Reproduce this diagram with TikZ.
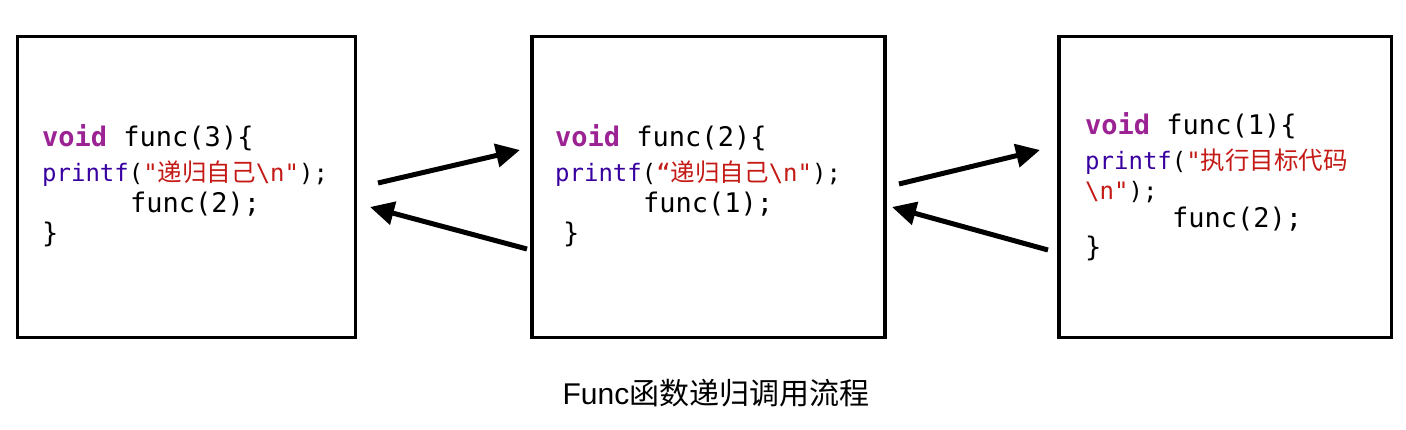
\documentclass[tikz,border=0pt]{standalone}
\usepackage{fontspec}
\usetikzlibrary{arrows.meta}
\newfontfamily\codefont{DejaVu Sans Mono}
\newfontfamily\cjkfont{Noto Sans CJK SC}
\newfontfamily\capfont{Liberation Sans}
\definecolor{kw}{RGB}{155,35,147}
\definecolor{fn}{RGB}{57,0,160}
\definecolor{str}{RGB}{196,26,22}
\newcommand{\cj}[1]{{\cjkfont\fontsize{24.5}{31}\selectfont #1}}
\newcommand{\kwd}[1]{{\bfseries\color{kw}#1}}
\newcommand{\fnm}[1]{{\color{fn}#1}}
\newcommand{\strg}[1]{{\color{str}#1}}
\begin{document}
\begin{tikzpicture}[x=1pt,y=-1pt,
  codebox/.style={draw=black,line width=3.5pt,rectangle,inner sep=0pt,minimum height=301pt},
  codeline/.style={anchor=base west,inner sep=0pt,font=\codefont\fontsize{27}{31}\selectfont},
  smallline/.style={anchor=base west,inner sep=0pt,font=\codefont\fontsize{24}{31}\selectfont},
  flow/.style={line width=5pt,-{Triangle[length=24pt,width=23pt]}}]
\useasboundingbox (0,0) rectangle (1406,430);
% boxes
\node[codebox,minimum width=338pt] (b1) at (186.5,187) {};
\node[codebox,minimum width=353pt] (b2) at (708.5,187) {};
\node[codebox,minimum width=332.5pt] (b3) at (1225.25,187) {};
% box 1 code
\node[codeline] (b1l1) at (42,147) {\kwd{void} func(3)\{};
\node[smallline] (b1l2) at (42,182) {\fnm{printf}(\strg{"\cj{递归自己}\textbackslash n"});};
\node[codeline] (b1l3) at (130,213) {func(2);};
\node[codeline] (b1l4) at (42,243) {\}};
% box 2 code
\node[codeline] (b2l1) at (555,147) {\kwd{void} func(2)\{};
\node[smallline] (b2l2) at (555,182) {\fnm{printf}(\strg{“\cj{递归自己}\textbackslash n"});};
\node[codeline] (b2l3) at (643,213) {func(1);};
\node[codeline] (b2l4) at (563,243) {\}};
% box 3 code
\node[codeline] (b3l1) at (1085,135) {\kwd{void} func(1)\{};
\node[smallline] (b3l2) at (1085,170) {\fnm{printf}(\strg{"\cj{执行目标代码}}};
\node[smallline] (b3l3) at (1085,200) {\strg{\textbackslash n"});};
\node[codeline] (b3l4) at (1172,228) {func(2);};
\node[codeline] (b3l5) at (1085,257) {\}};
% caption
\node[anchor=base,inner sep=0pt] (cap) at (716,404)
  {\capfont\fontsize{30}{34}\selectfont Func\cjkfont 函数递归调用流程};
% arrows
\coordinate (a1s) at (378,183);
\coordinate (a1e) at (520,150);
\coordinate (a2s) at (527,249);
\coordinate (a2e) at (370,207);
\coordinate (a3s) at (899,184);
\coordinate (a3e) at (1040,150);
\coordinate (a4s) at (1048,250);
\coordinate (a4e) at (892,207);
\draw[flow] (a1s) -- (a1e);
\draw[flow] (a2s) -- (a2e);
\draw[flow] (a3s) -- (a3e);
\draw[flow] (a4s) -- (a4e);
\end{tikzpicture}
\end{document}
